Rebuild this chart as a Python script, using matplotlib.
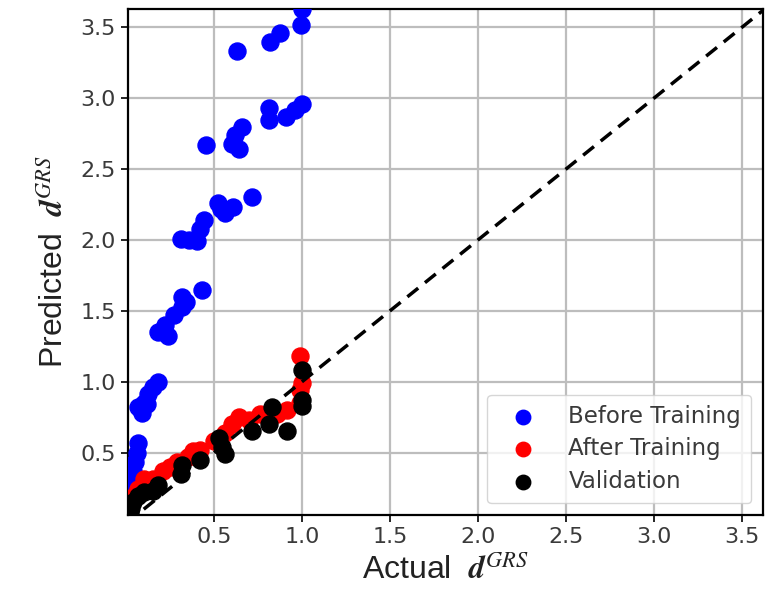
import matplotlib
matplotlib.use("Agg")
import matplotlib.pyplot as plt

# before training (blue)
before_x = [1.00, 0.995, 0.875, 0.82, 0.63, 1.00, 0.96, 0.91, 0.81, 0.81,
            0.66, 0.62, 0.60, 0.64, 0.455, 0.716, 0.52, 0.56, 0.61, 0.54,
            0.44, 0.42, 0.40, 0.31, 0.36, 0.43, 0.32, 0.32, 0.34, 0.27,
            0.22, 0.18, 0.24, 0.18, 0.155, 0.125, 0.10, 0.07, 0.09, 0.12,
            0.07, 0.06, 0.05, 0.04, 0.04, 0.03, 0.03]
before_y = [3.63, 3.52, 3.46, 3.40, 3.33, 2.96, 2.92, 2.87, 2.93, 2.85,
            2.80, 2.74, 2.68, 2.64, 2.67, 2.30, 2.26, 2.19, 2.23, 2.22,
            2.14, 2.08, 1.99, 2.01, 2.00, 1.65, 1.60, 1.53, 1.56, 1.47,
            1.40, 1.35, 1.32, 1.00, 0.965, 0.91, 0.85, 0.82, 0.78, 0.84,
            0.57, 0.50, 0.43, 0.37, 0.30, 0.25, 0.20]

# after training (red)
after_x = [0.99, 1.00, 0.99, 0.99, 0.915, 0.86, 0.76, 0.70, 0.64, 0.60,
           0.56, 0.50, 0.42, 0.38, 0.35, 0.29, 0.25, 0.21, 0.155, 0.10,
           0.07, 0.05, 0.03]
after_y = [1.18, 0.99, 0.94, 0.85, 0.80, 0.77, 0.77, 0.73, 0.75, 0.70,
           0.64, 0.58, 0.52, 0.51, 0.47, 0.43, 0.40, 0.37, 0.31, 0.31,
           0.24, 0.20, 0.15]

# validation (black)
val_x = [1.00, 1.00, 1.00, 0.83, 0.81, 0.915, 0.715, 0.53, 0.545, 0.56,
         0.42, 0.32, 0.31, 0.18, 0.15, 0.10, 0.07, 0.04, 0.03, 0.02]
val_y = [1.08, 0.87, 0.83, 0.82, 0.70, 0.65, 0.65, 0.60, 0.54, 0.49,
         0.45, 0.41, 0.35, 0.27, 0.23, 0.22, 0.19, 0.15, 0.11, 0.08]

x_lim = (0.01, 3.62)
y_lim = (0.06, 3.63)
ticks = [0.5, 1.0, 1.5, 2.0, 2.5, 3.0, 3.5]

plt.rcParams['mathtext.fontset'] = 'stix'

fig = plt.figure(figsize=(7.66, 5.98), dpi=100)
ax = fig.add_axes([0.167, 0.139, 0.829, 0.846])

ms = 150
ax.scatter(before_x, before_y, s=ms, color='#0000ff', label='Before Training', zorder=3)
ax.scatter(after_x, after_y, s=ms, color='#ff0000', label='After Training', zorder=3)
ax.scatter(val_x, val_y, s=ms, color='black', label='Validation', zorder=4)
ax.plot([0, 4], [0, 4], 'k--', linewidth=2.5, dashes=(4, 2.5), zorder=5)

ax.set_xlim(*x_lim)
ax.set_ylim(*y_lim)
ax.set_xticks(ticks)
ax.set_yticks(ticks)
ax.grid(True, color='#bdbdbd', linewidth=1.6, zorder=0)
ax.set_axisbelow(True)
for sp in ax.spines.values():
    sp.set_linewidth(1.6)
ax.tick_params(labelsize=16, labelcolor='#3a3a3a', length=5, width=1.2)

lab_font = dict(family='Liberation Sans', size=23, color='#222222')
ax.set_xlabel(r'Actual  $\boldsymbol{d}^{GRS}$', labelpad=6, **lab_font)
ax.set_ylabel(r'Predicted  $\boldsymbol{d}^{GRS}$', labelpad=8, **lab_font)

leg = ax.legend(loc='lower right', fontsize=16.5, handletextpad=0.9,
                handlelength=2.2, borderpad=0.45, labelspacing=0.42,
                borderaxespad=0.5, markerscale=0.85)
for t in leg.get_texts():
    t.set_color('#3a3a3a')

fig.savefig('out.png', dpi=100)
